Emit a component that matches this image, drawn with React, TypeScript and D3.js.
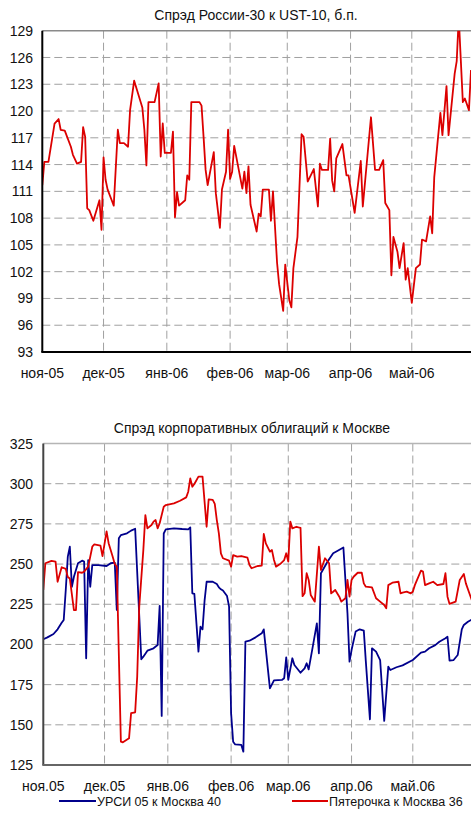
import React from "react";
import * as d3 from "d3";

const FONT = "'Liberation Sans', Arial, Helvetica, sans-serif";

const monthTicks = ["2005-11-01","2005-12-01","2006-01-01","2006-02-01","2006-03-01","2006-04-01","2006-05-01"];
const topMonthLabels = ["ноя-05","дек-05","янв-06","фев-06","мар-06","апр-06","май-06"];
const bottomMonthLabels = ["ноя.05","дек.05","янв.06","фев.06","мар.06","апр.06","май.06"];
const topYTicks = [93,96,99,102,105,108,111,114,117,120,123,126,129];
const bottomYTicks = [125,150,175,200,225,250,275,300,325];
const xDomain = ["2005-11-01","2006-05-30"];

const topTitle = "Спрэд России-30 к UST-10, б.п.";
const bottomTitle = "Спрэд корпоративных облигаций к Москве";
const legendNames = ["УРСИ 05 к Москва 40","Пятерочка к Москва 36"];

const russiaDates = [
"2005-11-01","2005-11-02","2005-11-04","2005-11-07","2005-11-09","2005-11-10","2005-11-12","2005-11-15","2005-11-16","2005-11-18",
"2005-11-20","2005-11-21","2005-11-22","2005-11-23","2005-11-24","2005-11-26","2005-11-29","2005-11-30","2005-12-01","2005-12-02",
"2005-12-03","2005-12-05","2005-12-06","2005-12-08","2005-12-09","2005-12-11","2005-12-13","2005-12-14","2005-12-16","2005-12-20",
"2005-12-21","2005-12-22","2005-12-23","2005-12-26","2005-12-28","2005-12-29","2005-12-30","2005-12-31","2006-01-03","2006-01-04",
"2006-01-05","2006-01-06","2006-01-07","2006-01-10","2006-01-11","2006-01-12","2006-01-13","2006-01-17","2006-01-18","2006-01-19",
"2006-01-20","2006-01-21","2006-01-24","2006-01-25","2006-01-27","2006-01-28","2006-01-30","2006-01-31","2006-02-01","2006-02-02",
"2006-02-03","2006-02-07","2006-02-08","2006-02-09","2006-02-10","2006-02-11","2006-02-14","2006-02-15","2006-02-16","2006-02-17",
"2006-02-20","2006-02-21","2006-02-22","2006-02-24","2006-02-25","2006-02-27","2006-02-28","2006-03-02","2006-03-03","2006-03-04",
"2006-03-06","2006-03-08","2006-03-09","2006-03-11","2006-03-14","2006-03-16","2006-03-17","2006-03-18","2006-03-21","2006-03-22",
"2006-03-23","2006-03-24","2006-03-25","2006-03-28","2006-03-30","2006-03-31","2006-04-03","2006-04-06","2006-04-07","2006-04-11",
"2006-04-13","2006-04-15","2006-04-17","2006-04-18","2006-04-20","2006-04-21","2006-04-22","2006-04-24","2006-04-25","2006-04-27",
"2006-04-28","2006-04-29","2006-05-01","2006-05-03","2006-05-05","2006-05-06","2006-05-08","2006-05-10","2006-05-11","2006-05-12",
"2006-05-15","2006-05-16","2006-05-18","2006-05-19","2006-05-22","2006-05-23","2006-05-24","2006-05-26","2006-05-27","2006-05-29",
"2006-05-30"];
const russiaValues = [
111.7,114.3,114.3,118.6,119.1,117.9,117.8,116.0,115.1,114.1,
114.3,118.2,117.1,109.1,108.9,107.7,110.0,106.7,114.8,112.3,
111.2,110.0,109.4,117.9,116.4,116.4,116.0,120.1,123.4,120.4,
117.9,113.9,121.0,121.0,123.1,114.9,118.6,115.3,115.3,117.7,
108.1,110.9,109.4,110.0,112.8,112.3,121.0,121.0,120.6,117.1,
113.4,111.7,115.4,110.8,106.9,111.2,113.2,117.9,112.4,113.2,
116.1,111.3,113.2,110.8,113.8,109.5,106.5,108.5,108.2,111.2,
111.2,107.7,111.0,103.0,100.6,97.6,102.8,98.8,98.0,102.4,
105.9,117.4,117.1,112.1,113.5,109.3,114.1,113.4,113.4,116.9,
112.2,111.0,114.7,116.3,112.8,112.8,108.6,114.4,109.3,119.3,
113.4,113.4,114.5,109.7,108.9,101.6,105.9,104.2,102.4,105.2,
101.1,102.4,98.5,102.4,102.8,105.6,105.4,108.2,106.3,112.6,
119.8,117.3,122.8,117.3,124.2,125.6,130.5,121.0,121.4,120.1,
124.6];

const ursiDates = [
"2005-11-01","2005-11-03","2005-11-06","2005-11-08","2005-11-10","2005-11-11","2005-11-12","2005-11-13","2005-11-14","2005-11-15",
"2005-11-16","2005-11-18","2005-11-20","2005-11-21","2005-11-22","2005-11-23","2005-11-24","2005-11-25","2005-11-28","2005-12-02",
"2005-12-04","2005-12-06","2005-12-07","2005-12-08","2005-12-09","2005-12-12","2005-12-14","2005-12-16","2005-12-19","2005-12-20",
"2005-12-22","2005-12-25","2005-12-27","2005-12-28","2005-12-29","2005-12-30","2005-12-31","2006-01-04","2006-01-08","2006-01-11",
"2006-01-12","2006-01-13","2006-01-14","2006-01-16","2006-01-17","2006-01-18","2006-01-19","2006-01-20","2006-01-23","2006-01-25",
"2006-01-26","2006-01-27","2006-01-28","2006-01-30","2006-01-31","2006-02-01","2006-02-02","2006-02-03","2006-02-06","2006-02-07",
"2006-02-08","2006-02-10","2006-02-13","2006-02-16","2006-02-17","2006-02-20","2006-02-22","2006-02-26","2006-02-27","2006-02-28",
"2006-03-01","2006-03-03","2006-03-04","2006-03-07","2006-03-09","2006-03-10","2006-03-11","2006-03-13","2006-03-15","2006-03-16",
"2006-03-17","2006-03-20","2006-03-21","2006-03-23","2006-03-25","2006-03-28","2006-03-30","2006-03-31","2006-04-01","2006-04-03",
"2006-04-05","2006-04-07","2006-04-08","2006-04-10","2006-04-11","2006-04-13","2006-04-15","2006-04-17","2006-04-19","2006-04-20",
"2006-04-23","2006-04-26","2006-05-01","2006-05-05","2006-05-07","2006-05-09","2006-05-12","2006-05-14","2006-05-17","2006-05-18",
"2006-05-19","2006-05-21","2006-05-23","2006-05-25","2006-05-26","2006-05-28","2006-05-30"];
const ursiValues = [
203.2,204.4,206.5,209.4,213.5,215.2,233.9,254.6,260.8,235.9,
242.1,250.5,252.1,251.5,191.4,252.5,235.9,249.4,249.4,248.8,
250.5,250.9,221.5,266.0,268.0,269.1,270.8,272.0,190.8,192.4,
196.1,197.6,199.6,224.0,155.5,269.0,271.6,272.2,271.8,271.6,
272.8,231.8,231.4,195.5,211.0,209.4,227.2,239.0,239.0,237.6,
235.5,234.3,233.5,230.1,223.5,157.2,139.5,137.8,137.5,133.3,
201.7,202.3,204.4,206.9,209.4,172.7,177.6,178.0,179.0,192.0,
178.0,191.4,187.2,182.4,185.1,188.3,184.5,198.6,213.1,194.5,
244.3,251.0,253.0,256.7,258.1,260.3,219.4,189.3,196.5,208.0,
209.4,208.6,189.3,153.4,197.6,195.5,190.3,152.4,186.2,184.1,
185.8,187.0,190.3,194.9,195.5,197.6,199.6,201.7,203.8,204.8,
189.9,190.3,193.4,209.4,212.1,214.1,215.6];

const pyatDates = [
"2005-11-01","2005-11-02","2005-11-05","2005-11-07","2005-11-08","2005-11-10","2005-11-12","2005-11-13","2005-11-14","2005-11-16",
"2005-11-17","2005-11-18","2005-11-20","2005-11-21","2005-11-23","2005-11-25","2005-11-26","2005-11-29","2005-11-30","2005-12-02",
"2005-12-03","2005-12-05","2005-12-06","2005-12-07","2005-12-09","2005-12-10","2005-12-13","2005-12-14","2005-12-16","2005-12-17",
"2005-12-18","2005-12-20","2005-12-21","2005-12-22","2005-12-24","2005-12-25","2005-12-26","2005-12-27","2005-12-28","2005-12-30",
"2005-12-31","2006-01-04","2006-01-07","2006-01-10","2006-01-11","2006-01-12","2006-01-13","2006-01-14","2006-01-16","2006-01-18",
"2006-01-20","2006-01-21","2006-01-23","2006-01-24","2006-01-25","2006-01-26","2006-01-27","2006-01-28","2006-01-31","2006-02-01",
"2006-02-02","2006-02-04","2006-02-06","2006-02-09","2006-02-10","2006-02-11","2006-02-14","2006-02-16","2006-02-17","2006-02-18",
"2006-02-20","2006-02-21","2006-02-22","2006-02-23","2006-02-25","2006-02-27","2006-02-28","2006-03-01","2006-03-02","2006-03-03",
"2006-03-05","2006-03-06","2006-03-07","2006-03-08","2006-03-09","2006-03-10","2006-03-11","2006-03-12","2006-03-14","2006-03-16",
"2006-03-17","2006-03-19","2006-03-21","2006-03-22","2006-03-23","2006-03-24","2006-03-26","2006-03-27","2006-03-29","2006-03-30",
"2006-03-31","2006-04-01","2006-04-02","2006-04-04","2006-04-06","2006-04-07","2006-04-08","2006-04-11","2006-04-13","2006-04-15",
"2006-04-17","2006-04-18","2006-04-19","2006-04-21","2006-04-24","2006-04-25","2006-04-26","2006-04-28","2006-04-30","2006-05-01",
"2006-05-02","2006-05-05","2006-05-06","2006-05-07","2006-05-09","2006-05-11","2006-05-13","2006-05-16","2006-05-17","2006-05-18",
"2006-05-19","2006-05-22","2006-05-24","2006-05-26","2006-05-27","2006-05-30"];
const pyatValues = [
233.9,250.5,252.0,251.5,239.0,248.0,247.0,242.0,241.0,221.4,
221.4,245.0,244.6,245.3,248.4,260.8,262.3,261.5,255.0,270.3,
263.0,254.6,250.0,248.4,139.5,139.1,141.6,157.2,157.8,180.0,
223.5,258.7,280.5,272.2,274.3,276.4,277.4,272.2,275.4,285.7,
286.7,287.8,289.4,291.5,295.0,303.3,298.1,299.8,304.4,304.4,
273.2,290.3,289.9,287.4,277.4,269.1,256.7,253.6,252.1,248.4,
255.6,254.6,255.0,254.0,249.4,247.4,248.8,249.0,268.7,262.9,
257.7,258.7,252.5,248.4,250.0,252.5,256.7,251.5,276.4,272.2,
273.2,272.8,272.5,230.0,231.8,244.3,240.1,230.8,226.6,260.8,
246.3,253.6,250.5,231.8,232.8,233.9,229.7,226.6,228.7,240.1,
229.7,240.1,242.1,244.6,244.6,238.0,235.9,235.5,228.7,226.6,
224.5,222.5,236.9,238.4,239.0,231.8,232.2,232.8,231.8,232.8,
236.9,245.9,245.3,236.9,238.0,239.0,236.9,237.6,244.3,229.7,
225.2,226.6,240.1,243.8,238.0,227.2];

const parse = d3.timeParse("%Y-%m-%d");

type Series = { dates: string[]; values: number[]; color: string };

type PanelProps = {
  id: string;
  left: number; right: number; top: number; bottom: number;
  yDomain: [number, number];
  yTicks: number[];
  xLabels: string[];
  xLabelY: number;
  title: string; titleX: number; titleY: number;
  series: Series[];
  axisColor: string; bottomAxisColor: string; borderColor: string;
};

function Panel(p: PanelProps) {
  const x = d3.scaleTime()
    .domain(xDomain.map((s) => parse(s) as Date))
    .range([p.left, p.right]);
  const y = d3.scaleLinear().domain(p.yDomain).range([p.bottom, p.top]);
  const ticks = monthTicks.map((s) => parse(s) as Date);
  const grid = "#a0a0a0";
  return (
    <g>
      <defs>
        <clipPath id={p.id}>
          <rect x={p.left} y={p.top} width={471 - p.left} height={p.bottom - p.top} />
        </clipPath>
      </defs>
      <text x={p.titleX} y={p.titleY} textAnchor="middle" fontSize={14} fill="#111">{p.title}</text>
      {p.yTicks.slice(1, -1).map((t) => (
        <line key={"h" + t} x1={p.left} x2={471} y1={y(t)} y2={y(t)} stroke={grid} strokeWidth={1} strokeDasharray="8 4" />
      ))}
      {ticks.slice(1).map((d, i) => (
        <line key={"v" + i} x1={x(d)} x2={x(d)} y1={p.top} y2={p.bottom} stroke={grid} strokeWidth={1} strokeDasharray="8 4" />
      ))}
      <line x1={p.left} x2={471} y1={p.top} y2={p.top} stroke={p.borderColor} strokeWidth={1.5} />
      <g clipPath={`url(#${p.id})`}>
        {p.series.map((s, i) => {
          const pts: [Date, number][] = s.dates.map((d, j) => [parse(d) as Date, s.values[j]]);
          const path = d3.line<[Date, number]>().x((d) => x(d[0])).y((d) => y(d[1]))(pts) || "";
          return <path key={i} d={path} fill="none" stroke={s.color} strokeWidth={1.8} strokeLinejoin="round" />;
        })}
      </g>
      <line x1={p.left} x2={p.left} y1={p.top} y2={p.bottom} stroke={p.axisColor} strokeWidth={2} />
      <line x1={p.left - 1} x2={471} y1={p.bottom} y2={p.bottom} stroke={p.bottomAxisColor} strokeWidth={2} />
      {p.yTicks.map((t) => (
        <text key={"yl" + t} x={33} y={y(t)} dy="0.36em" textAnchor="end" fontSize={14} fill="#111">{t}</text>
      ))}
      {ticks.map((d, i) => (
        <text key={"xl" + i} x={x(d)} y={p.xLabelY} textAnchor="middle" fontSize={14} fill="#111">{p.xLabels[i]}</text>
      ))}
    </g>
  );
}

export default function App() {
  const red = "#dc0000";
  const blue = "#00008c";
  return (
    <svg width={471} height={816} style={{ position: "absolute", left: 0, top: 0, background: "#fff" }} fontFamily={FONT}>
      <rect x={0} y={0} width={471} height={816} fill="#fff" />
      <Panel id="clipTop" left={42.3} right={471} top={30.7} bottom={352} yDomain={[93, 129]} yTicks={topYTicks}
        xLabels={topMonthLabels} xLabelY={378} title={topTitle} titleX={256} titleY={20}
        series={[{ dates: russiaDates, values: russiaValues, color: red }]}
        axisColor="#000" bottomAxisColor="#000" borderColor="#8a8a8a" />
      <Panel id="clipBottom" left={43.3} right={472} top={443.5} bottom={765} yDomain={[125, 325]} yTicks={bottomYTicks}
        xLabels={bottomMonthLabels} xLabelY={791} title={bottomTitle} titleX={252} titleY={433}
        series={[{ dates: ursiDates, values: ursiValues, color: blue }, { dates: pyatDates, values: pyatValues, color: red }]}
        axisColor="#444" bottomAxisColor="#666" borderColor="#b5b5b5" />
      <line x1={59} x2={96} y1={801} y2={801} stroke={blue} strokeWidth={1.8} />
      <text x={97} y={805.5} fontSize={12.5} fill="#111">{legendNames[0]}</text>
      <line x1={292} x2={328} y1={801} y2={801} stroke={red} strokeWidth={1.8} />
      <text x={329} y={805.5} fontSize={12.5} fill="#111">{legendNames[1]}</text>
    </svg>
  );
}
